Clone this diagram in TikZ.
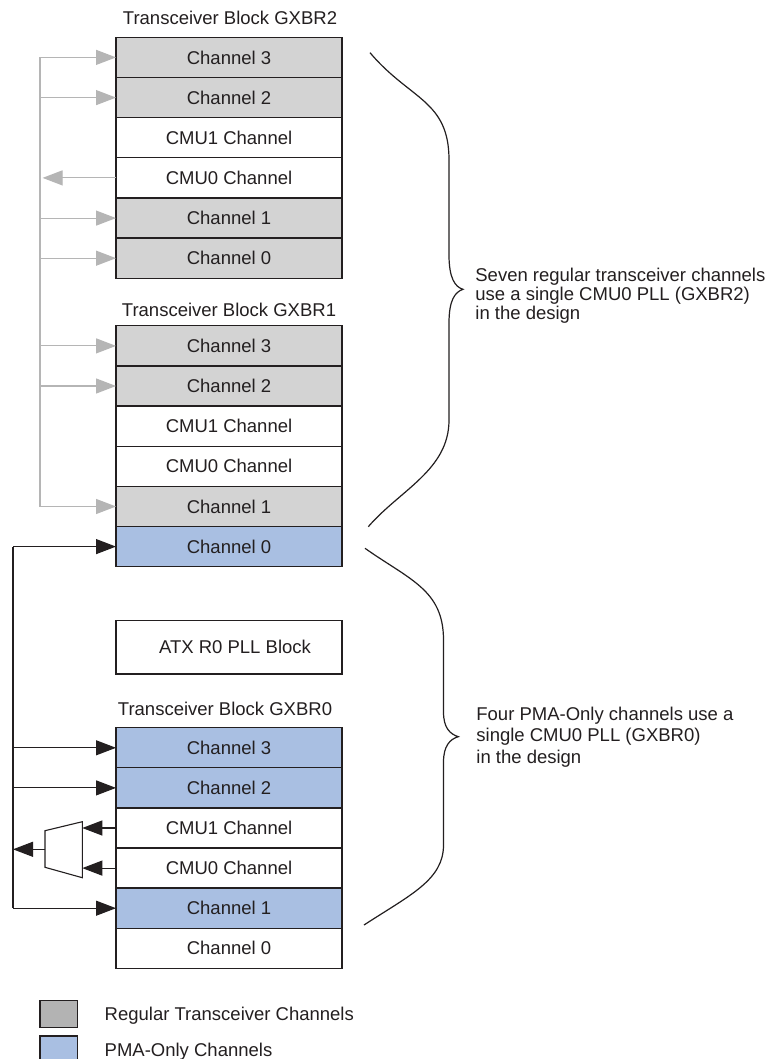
\documentclass[tikz,border=0pt]{standalone}
\usepackage{fontspec}
\setmainfont{Liberation Sans}
\usetikzlibrary{arrows.meta}
\definecolor{txt}{HTML}{231F20}
\definecolor{chgray}{HTML}{D3D3D3}
\definecolor{leggray}{HTML}{B3B3B3}
\definecolor{pmablue}{HTML}{A9BFE2}
\definecolor{busgray}{HTML}{B5B5B5}
\tikzset{
  row/.style={draw=txt, line width=0.65pt, minimum width=113pt, minimum height=20.08pt,
    inner sep=0pt, outer sep=0pt, fill=white},
  regular/.style={row, fill=chgray},
  pma/.style={row, fill=pmablue},
  title/.style={inner sep=0pt},
  busline/.style={draw=busgray, line width=0.55pt},
  kline/.style={draw=txt, line width=0.55pt},
  garrow/.style={busline, -{Triangle[length=10pt,width=7.5pt]}},
  barrow/.style={kline, -{Triangle[length=10pt,width=7.5pt]}},
  brace/.style={draw=txt, line width=0.6pt},
  legbox/.style={draw=txt, line width=0.65pt, minimum width=18.85pt, minimum height=13.3pt,
    inner sep=0pt, outer sep=0pt},
  note/.style={inner sep=0pt, align=left, anchor=west}
}
\begin{document}
\begin{tikzpicture}[x=0.5pt, y=-0.5pt, font=\fontsize{9.25}{11}\selectfont, text=txt]
\useasboundingbox (0,0) rectangle (766,1059);
\fill[white] (0,0) rectangle (766,1059);

% Block GXBR2
\node[title] (ta) at (230,18) {Transceiver Block GXBR2};
\node[regular] (a3) at (229,57.4) {Channel 3};
\node[regular] (a2) at (229,97.6) {Channel 2};
\node[row] (am1) at (229,137.8) {CMU1 Channel};
\node[row] (am0) at (229,177.9) {CMU0 Channel};
\node[regular] (a1) at (229,218.1) {Channel 1};
\node[regular] (a0) at (229,258.2) {Channel 0};

% Block GXBR1
\node[title] (tb) at (229,310) {Transceiver Block GXBR1};
\node[regular] (b3) at (229,345.9) {Channel 3};
\node[regular] (b2) at (229,386.0) {Channel 2};
\node[row] (bm1) at (229,426.2) {CMU1 Channel};
\node[row] (bm0) at (229,466.3) {CMU0 Channel};
\node[regular] (b1) at (229,506.5) {Channel 1};
\node[pma] (b0) at (229,546.6) {Channel 0};

% ATX
\node[row, minimum height=26.65pt] (atx) at (229,647.3) {\hspace{6pt}ATX R0 PLL Block};

% Block GXBR0
\node[title] (tc) at (225,709) {Transceiver Block GXBR0};
\node[pma] (c3) at (229,747.8) {Channel 3};
\node[pma] (c2) at (229,787.9) {Channel 2};
\node[row] (cm1) at (229,828.0) {CMU1 Channel};
\node[row] (cm0) at (229,868.1) {CMU0 Channel};
\node[pma] (c1) at (229,908.2) {Channel 1};
\node[row] (c0) at (229,948.3) {Channel 0};

% grey bus
\coordinate (gbus) at (40,0);
\draw[busline] (gbus |- a3) -- (gbus |- b1);
\foreach \n in {a3,a2,a1,a0,b3,b2,b1} {
  \draw[garrow] (gbus |- \n.west) -- (\n.west);
}
\draw[garrow] (am0.west) -- ([xshift=1.3pt]gbus |- am0.west);

% black bus
\coordinate (kbus) at (13,0);
\draw[kline] (kbus |- b0.west) -- (kbus |- c1.west);
\foreach \n in {b0,c3,c2,c1} {
  \draw[barrow] (kbus |- \n.west) -- (\n.west);
}

% mux
\coordinate (m1) at (45,830.7);
\coordinate (m2) at (82.3,821.7);
\coordinate (m3) at (82.3,877.7);
\coordinate (m4) at (45,867.3);
\coordinate (mo) at (45,849.3);
\draw[kline, fill=white] (m1) -- (m2) -- (m3) -- (m4) -- cycle;
\draw[barrow] (cm1.west) -- (cm1.west -| m2);
\draw[barrow] (cm0.west) -- (cm0.west -| m2);
\draw[barrow] (mo) -- (kbus |- mo);

% braces
\draw[brace] (370,52.7) .. controls (410,100) and (449,100) .. (449,160)
  -- (449,255) .. controls (449,278) and (455,287) .. (463,289.3)
  .. controls (455,292) and (449,300) .. (449,323)
  -- (449,420) .. controls (449,470) and (400,490) .. (368.3,526.7);
\draw[brace] (365,548.3) .. controls (410,580) and (443.5,590) .. (443.5,640)
  -- (443.5,712) .. controls (443.5,728) and (450,734) .. (458.3,736.7)
  .. controls (450,739) and (443.5,746) .. (443.5,762)
  -- (443.5,845) .. controls (443.5,880) and (410,895) .. (364,925);

\node[note, font=\fontsize{9.25}{9.6}\selectfont] (n1) at (475,296)
  {Seven regular transceiver channels\\use a single CMU0 PLL (GXBR2)\\in the design};
\node[note, font=\fontsize{9.25}{10.85}\selectfont] (n2) at (476,737)
  {Four PMA-Only channels use a\\single CMU0 PLL (GXBR0)\\in the design};

% legend
\node[legbox, fill=leggray] (lg) at (58.85,1014) {};
\node[legbox, fill=pmablue] (lb) at (58.85,1049.3) {};
\node[inner sep=0pt, anchor=base west] (lgt) at (104.3,1020) {Regular Transceiver Channels};
\node[inner sep=0pt, anchor=base west] (lbt) at (104.3,1056.7) {PMA-Only Channels};
\end{tikzpicture}
\end{document}
